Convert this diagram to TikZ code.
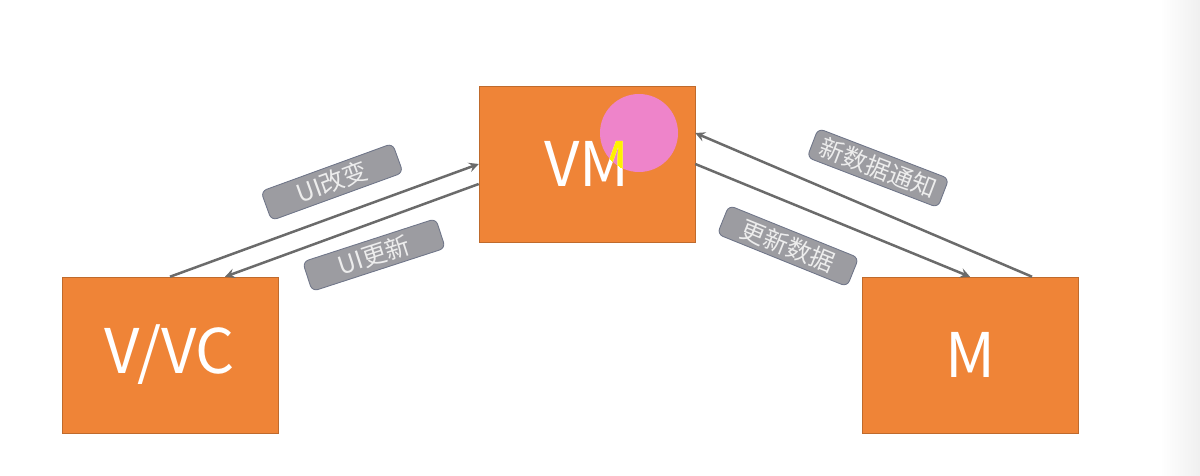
\documentclass[tikz,border=0pt]{standalone}
\usepackage{fontspec}
\setmainfont{Noto Sans CJK SC}
\definecolor{boxorange}{HTML}{EF8437}
\definecolor{tagfill}{HTML}{9C9CA1}
\definecolor{tagedge}{HTML}{707689}
\definecolor{arrowgray}{HTML}{6B6B6B}
\definecolor{markpink}{HTML}{EE84CA}

\begin{document}
\begin{tikzpicture}[x=0.2mm, y=-0.2mm,
    box/.style={draw=boxorange!80!black, line width=0.3pt, fill=boxorange, minimum width=43.2mm, minimum height=31.2mm, inner sep=0pt},
    boxtext/.style={text=white, font=\fontsize{35}{40}\selectfont},
    tag/.style={draw=tagedge, line width=0.5pt, fill=tagfill, rounded corners=1.2mm, minimum width=28mm, minimum height=6.2mm, inner sep=0pt, text=white!93!black, font=\fontsize{14}{16}\selectfont},
    flow/.style={line width=0.5mm, arrowgray, ->, >=stealth}]
    \useasboundingbox (0,0) rectangle (1200,476);
    % Screen edge
    \shade[left color=white, right color=gray!12] (1160,0) rectangle (1200,476);

    % Boxes
    \node[box, boxtext] (vvc) at (170,355) {V/VC};
    \node[box] (vm) at (587,164) {};
    \node[box, boxtext] (m) at (970,355) {M};

    % Highlight circle over VM
    \fill[markpink] (639,133) circle (39);
    \node[boxtext] (vmtext) at (vm) {VM};
    \begin{scope}
        \clip (639,133) circle (39);
        \node[boxtext, text=yellow] at (vm) {VM};
    \end{scope}

    % Arrows
    \draw[flow] (vvc.north) -- (vm.west);
    \draw[flow] ([yshift=-4mm]vm.west) -- ([xshift=11mm]vvc.north);
    \draw[flow] (vm.east) -- (m.north);
    \draw[flow] ([xshift=12.4mm]m.north) -- ([yshift=6.2mm]vm.east);

    % Labels
    \node[tag, rotate=20] (tchange) at (332,182) {UI改变};
    \node[tag, rotate=18] (tupdate) at (374,255) {UI更新};
    \node[tag, rotate=-21] (tnotify) at (878,168) {新数据通知};
    \node[tag, rotate=-22] (tdata) at (788,246) {更新数据};
\end{tikzpicture}
\end{document}
